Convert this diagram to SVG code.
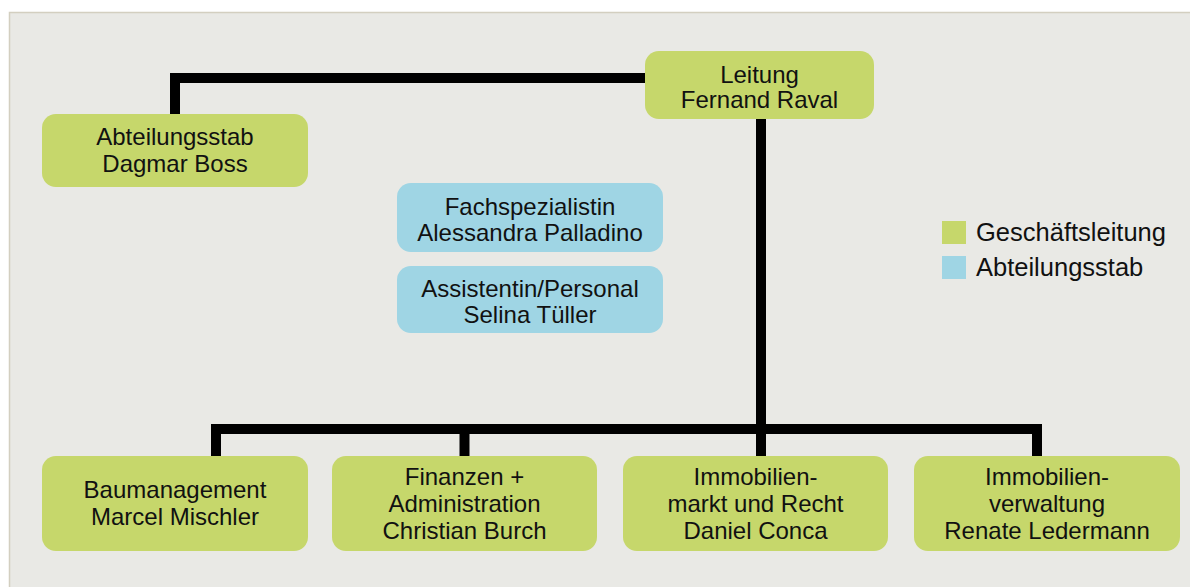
<svg xmlns="http://www.w3.org/2000/svg" width="1190" height="587" viewBox="0 0 1190 587">
<style>
.g{fill:#c6d76b}
.b{fill:#9fd5e4}
.t{font-family:"Liberation Sans",Arial,sans-serif;font-size:24px;fill:#111;text-anchor:middle}
.lt{font-family:"Liberation Sans",Arial,sans-serif;font-size:25.5px;fill:#111}
.c{fill:none;stroke:#000;stroke-width:10;stroke-linejoin:miter;stroke-linecap:butt}
</style>
<rect x="0" y="0" width="1190" height="587" fill="#ffffff"/>
<rect x="9.5" y="12.5" width="1185" height="580" fill="#e9e9e5" stroke="#d3cfc0" stroke-width="1.5"/>
<g id="connectors">
<path class="c" d="M175,114 V78 H646"/>
<path class="c" d="M761,118 V457"/>
<path class="c" d="M216,457 V429 H1037 V457"/>
<path class="c" d="M464.5,429 V457"/>
</g>
<g id="n-abteilungsstab">
<rect class="g" x="42" y="114" width="266" height="73" rx="14"/>
<text class="t" x="175" y="145">Abteilungsstab</text>
<text class="t" x="175" y="172">Dagmar Boss</text>
</g>
<g id="n-leitung">
<rect class="g" x="645" y="51" width="229" height="68" rx="14"/>
<text class="t" x="759.5" y="83">Leitung</text>
<text class="t" x="759.5" y="108">Fernand Raval</text>
</g>
<g id="n-fachspezialistin">
<rect class="b" x="397" y="183" width="266" height="69" rx="14"/>
<text class="t" x="530" y="215">Fachspezialistin</text>
<text class="t" x="530" y="241">Alessandra Palladino</text>
</g>
<g id="n-assistentin">
<rect class="b" x="397" y="266" width="266" height="67" rx="14"/>
<text class="t" x="530" y="297">Assistentin/Personal</text>
<text class="t" x="530" y="323">Selina Tüller</text>
</g>
<g id="n-baumanagement">
<rect class="g" x="42" y="456" width="266" height="95" rx="14"/>
<text class="t" x="175" y="498">Baumanagement</text>
<text class="t" x="175" y="525">Marcel Mischler</text>
</g>
<g id="n-finanzen">
<rect class="g" x="332" y="456" width="265" height="95" rx="14"/>
<text class="t" x="464.5" y="485">Finanzen +</text>
<text class="t" x="464.5" y="512">Administration</text>
<text class="t" x="464.5" y="539">Christian Burch</text>
</g>
<g id="n-immobilienmarkt">
<rect class="g" x="623" y="456" width="265" height="95" rx="14"/>
<text class="t" x="755.5" y="485">Immobilien-</text>
<text class="t" x="755.5" y="512">markt und Recht</text>
<text class="t" x="755.5" y="539">Daniel Conca</text>
</g>
<g id="n-immobilienverwaltung">
<rect class="g" x="914" y="456" width="266" height="95" rx="14"/>
<text class="t" x="1047" y="485">Immobilien-</text>
<text class="t" x="1047" y="512">verwaltung</text>
<text class="t" x="1047" y="539">Renate Ledermann</text>
</g>
<g id="legend">
<rect class="g" x="942" y="221" width="24" height="23"/>
<rect class="b" x="942" y="256" width="24" height="23"/>
<text class="lt" x="976" y="241">Geschäftsleitung</text>
<text class="lt" x="976" y="276">Abteilungsstab</text>
</g>
</svg>
